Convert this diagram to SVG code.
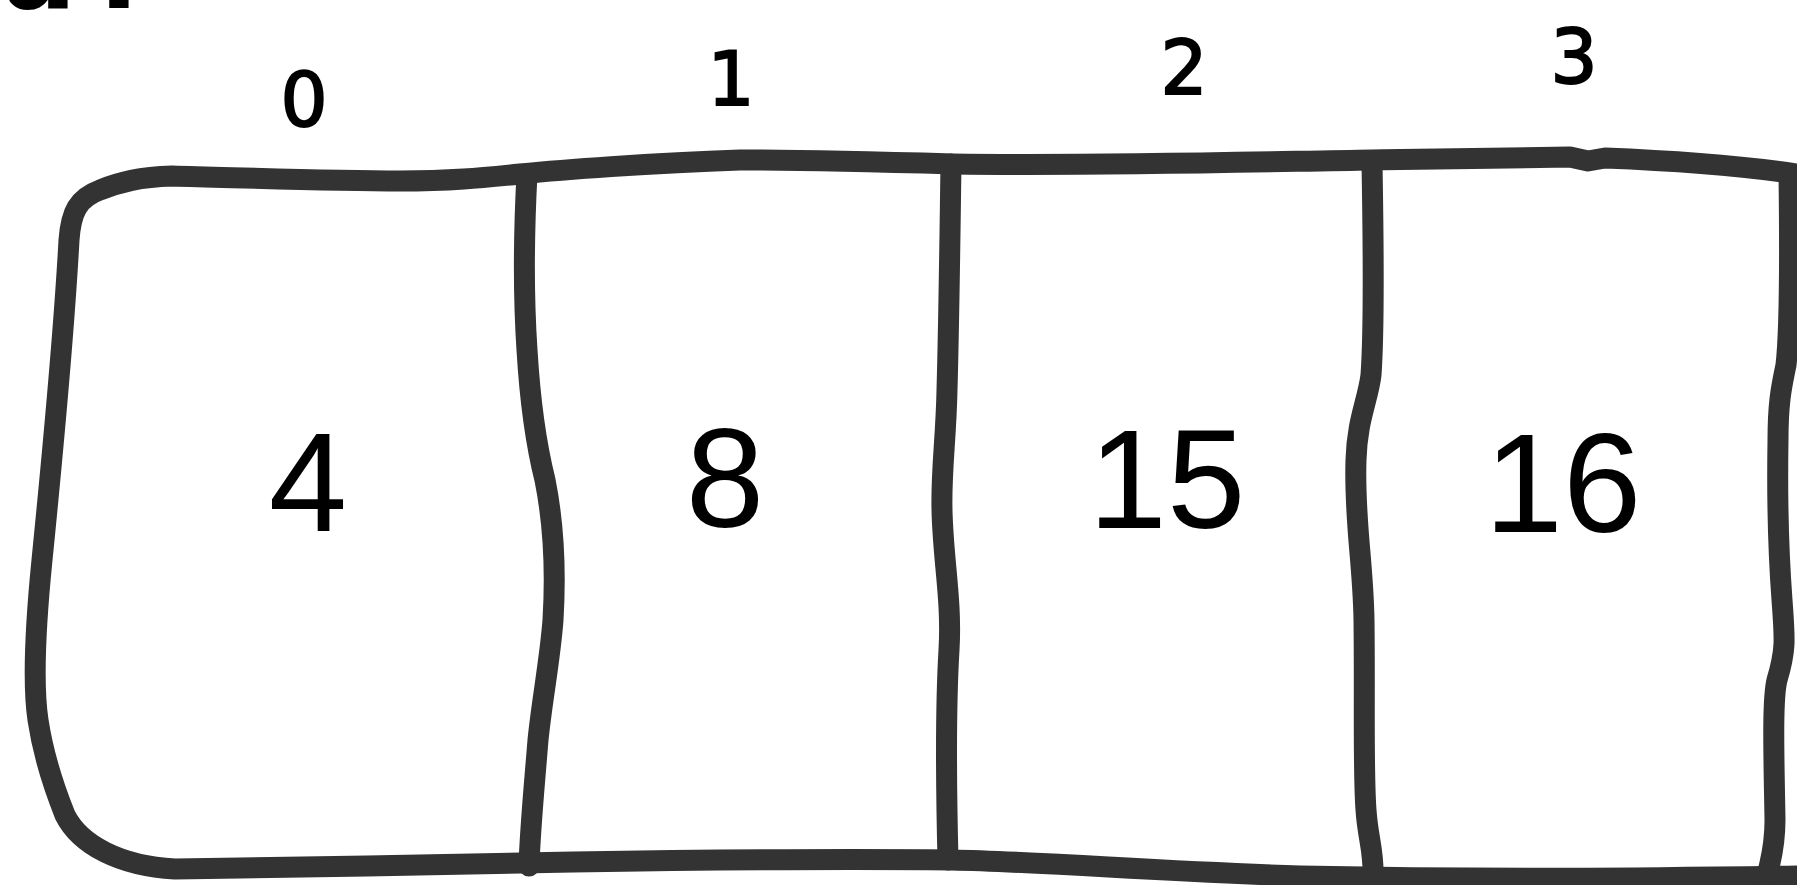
<svg xmlns="http://www.w3.org/2000/svg" width="1797" height="885" viewBox="0 0 1797 885">
<style>
.ln{fill:none;stroke:#333333;stroke-width:21;stroke-linecap:round;stroke-linejoin:round}
.idx{font-family:"DejaVu Sans",sans-serif;font-size:74px;fill:#000;stroke:#000;stroke-width:2;text-anchor:middle}
.val{font-family:"Liberation Sans",Arial,sans-serif;font-size:141px;fill:#000;text-anchor:middle}
.frag{font-family:"DejaVu Sans",sans-serif;font-weight:bold;font-size:110px;fill:#000}
</style>
<rect width="1797" height="885" fill="#ffffff"/>
<text class="frag" x="2" y="8">a<tspan x="98">.</tspan></text>
<g id="frame">
<path class="ln" d="M1797,174 C1750,167 1680,161 1605,158 L1588,161 L1570,157 C1530,157 1450,159 1372,160 C1250,162 1100,166 953,164 C880,162 800,160 740,160 C650,163 560,170 520,174 C480,178 450,181 400,181 C330,181 250,178 172,176 C140,177 120,182 100,190 C78,198 71,212 69,240 C63,350 50,480 42,560 C36,620 32,680 38,720 C44,760 55,790 65,815 C80,845 120,866 175,869 C300,868 450,864 573,862 C700,860 850,859 951,860 C1050,862 1150,871 1300,876 C1500,880 1650,878 1797,876"/>
</g>
<g id="dividers">
<path class="ln" d="M527,174 C524,230 523,290 527,350 C530,400 535,440 545,480 C553,520 556,570 553,620 C550,660 542,700 538,740 C534,790 530,830 529,866"/>
<path class="ln" d="M951,164 C950,230 949,320 947,390 C946,440 941,470 942,510 C943,560 952,600 949,650 C946,700 946,780 948,860"/>
<path class="ln" d="M1372,161 C1373,230 1375,320 1371,375 C1368,400 1357,420 1356,460 C1354,520 1363,560 1364,620 C1365,700 1363,770 1366,810 C1368,840 1374,850 1373,877"/>
<path class="ln" d="M1789,174 C1790,250 1790,330 1786,365 C1782,385 1778,400 1778,440 C1777,500 1779,560 1782,600 C1785,640 1786,650 1777,680 C1772,700 1774,760 1775,820 C1775,850 1770,860 1767,877"/>
</g>
<g id="connectors"></g>
<g id="cell0">
<text class="idx" x="304" y="126">0</text>
<text class="val" x="308" y="531">4</text>
</g>
<g id="cell1">
<text class="idx" x="731" y="105">1</text>
<text class="val" x="725" y="527">8</text>
</g>
<g id="cell2">
<text class="idx" x="1184" y="94">2</text>
<text class="val" x="1167" y="528">15</text>
</g>
<g id="cell3">
<text class="idx" x="1574" y="83">3</text>
<text class="val" x="1563" y="532">16</text>
</g>
</svg>
